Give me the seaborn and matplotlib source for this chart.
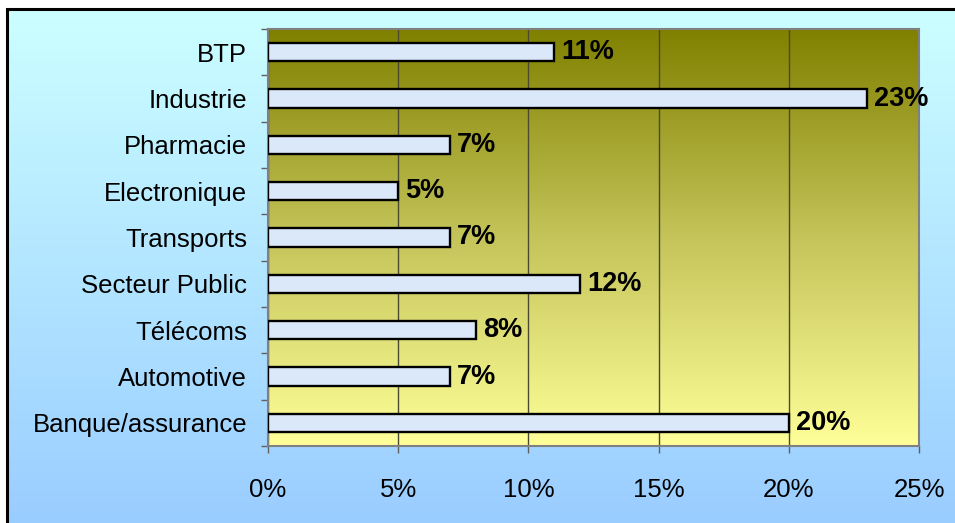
import numpy as np
import pandas as pd
import matplotlib
matplotlib.use("Agg")
import matplotlib.pyplot as plt
from matplotlib.colors import LinearSegmentedColormap
from matplotlib.patches import Rectangle
import seaborn as sns

# Répartition par secteur d'activité (en %)
secteurs = ["BTP", "Industrie", "Pharmacie", "Electronique", "Transports",
            "Secteur Public", "Télécoms", "Automotive", "Banque/assurance"]
parts = [11, 23, 7, 5, 7, 12, 8, 7, 20]
x_ticks = [0, 5, 10, 15, 20, 25]
x_tick_labels = ["0%", "5%", "10%", "15%", "20%", "25%"]

sns.set_style("white")
plt.rcParams["font.family"] = ["Liberation Sans", "DejaVu Sans"]
plt.rcParams["text.color"] = "black"
plt.rcParams["xtick.color"] = "black"
plt.rcParams["ytick.color"] = "black"
FS = 18.5

W, H = 955, 523
fig = plt.figure(figsize=(W / 100, H / 100), dpi=100)
fig.patch.set_facecolor("white")

# Fond de la zone graphique : dégradé cyan clair -> bleu clair
bg = fig.add_axes([0, 0, 1, 1], zorder=-10)
bg_cmap = LinearSegmentedColormap.from_list("bg", ["#CCFFFF", "#99CCFF"])
bg.imshow(np.linspace(0, 1, 256).reshape(-1, 1), aspect="auto", cmap=bg_cmap,
          extent=[7 / W, 1.02, -0.02, 1 - 9 / H], origin="upper",
          transform=bg.transAxes)
bg.set_xlim(0, 1)
bg.set_ylim(0, 1)
bg.axis("off")
bg.add_patch(Rectangle((7 / W, -0.05), 1.2, 1 - 9 / H + 0.05, fill=False,
                       edgecolor="black", linewidth=2.2,
                       transform=bg.transAxes, clip_on=False))

left, right, top, bottom = 268 / W, 919 / W, 1 - 29 / H, 1 - 446 / H
ax = fig.add_axes([left, bottom, right - left, top - bottom])

# Fond de la zone de traçage : dégradé olive -> jaune pâle
plot_cmap = LinearSegmentedColormap.from_list("plot", ["#808000", "#C4C45A", "#FFFF99"])
ax.imshow(np.linspace(0, 1, 256).reshape(-1, 1), aspect="auto", cmap=plot_cmap,
          extent=[0, 1, 0, 1], origin="upper", transform=ax.transAxes, zorder=0)

df = pd.DataFrame({"secteur": secteurs, "part": parts})
sns.barplot(data=df, y="secteur", x="part", orient="h", ax=ax,
            color="#DAE8FA", edgecolor="black", linewidth=1.7,
            width=0.39, saturation=1, zorder=3)

ax.bar_label(ax.containers[0], labels=[f"{v}%" for v in parts], padding=5,
             fontsize=19.5, fontweight="bold", color="black")

ax.set_xlim(0, 25)
ax.set_ylim(len(secteurs) - 0.5, -0.5)
ax.set_xticks(x_ticks)
ax.set_xticklabels(x_tick_labels, fontsize=FS)
ax.set_yticks(range(len(secteurs)))
ax.set_yticklabels(secteurs, fontsize=FS)
ax.set_yticks(np.arange(-0.5, len(secteurs)), minor=True)
ax.set_xlabel("")
ax.set_ylabel("")

ax.tick_params(axis="y", which="major", length=0, pad=15)
ax.tick_params(axis="y", which="minor", length=5, width=1, color="#606060",
               direction="out", left=True)
ax.tick_params(axis="x", which="major", length=5, width=1, color="#606060",
               direction="out", bottom=True, pad=18)

ax.xaxis.grid(True, color="#4A4A30", linewidth=1)
ax.yaxis.grid(False)
ax.set_axisbelow(True)
for s in ax.spines.values():
    s.set_visible(True)
    s.set_color("#808080")
    s.set_linewidth(1.5)

fig.savefig("out.png", dpi=100)
